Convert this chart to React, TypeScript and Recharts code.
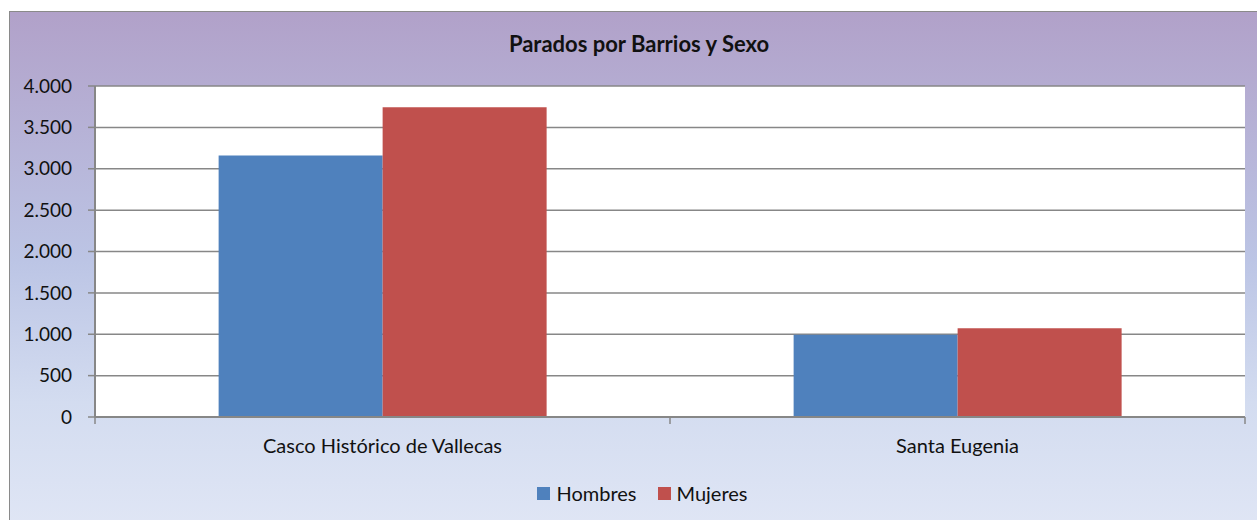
import { BarChart, Bar, XAxis, YAxis, CartesianGrid } from "recharts";

const BARRIOS = ["Casco Histórico de Vallecas", "Santa Eugenia"];
const HOMBRES = [3160, 995];
const MUJERES = [3742, 1072];
const Y_TICKS = [0, 500, 1000, 1500, 2000, 2500, 3000, 3500, 4000];

const SERIES = [
  { key: "hombres", label: "Hombres", color: "#4F81BD" },
  { key: "mujeres", label: "Mujeres", color: "#C0504D" },
];

const data = BARRIOS.map((b, i) => ({ barrio: b, hombres: HOMBRES[i], mujeres: MUJERES[i] }));

const FONT = "Lato, 'Noto Sans', sans-serif";
const W = 1257;
const H = 520;
const X_H = 30;
const M = { top: 86, right: 12, bottom: 103 - X_H, left: 15 };
const Y_W = 80;
const PLOT_W = W - M.left - M.right - Y_W;
const BAND = PLOT_W / BARRIOS.length;
const GREY = "#878787";

const fmt = (v: number) => String(v).replace(/\B(?=(\d{3})+(?!\d))/g, ".");

// Excel style: tick marks sit on category boundaries, not centres
const XTick = ({ x, y, payload, index }: any) => {
  const half = BAND / 2;
  return (
    <g>
      {index === 0 && <line x1={x - half} x2={x - half} y1={y} y2={y + 7} stroke={GREY} strokeWidth={1.5} />}
      <line x1={x + half} x2={x + half} y1={y} y2={y + 7} stroke={GREY} strokeWidth={1.5} />
      <text x={x} y={y + 36} textAnchor="middle" fill="#111" fontSize={20} fontFamily={FONT}>
        {payload.value}
      </text>
    </g>
  );
};

export default function App() {
  return (
    <div style={{ position: "relative", width: W, height: H, overflow: "hidden" }}>
      <style>{`body { margin: 0; overflow: hidden; }`}</style>
      <div style={{
        position: "absolute", left: 9, top: 11, width: 1300, height: 520,
        borderTop: "1px solid #8a8a8a", borderLeft: "1px solid #8a8a8a",
        background: "linear-gradient(to bottom, #B1A1C9 0%, #BCC5E5 48%, #D3DCF0 75%, #E0E6F5 100%)",
      }} />
      <div style={{
        position: "absolute", top: 33, left: 9, width: 1260, textAlign: "center",
        fontFamily: FONT, fontWeight: 700, fontSize: 22, lineHeight: 1, color: "#111",
      }}>
        Parados por Barrios y Sexo
      </div>
      <div style={{ position: "absolute", left: 0, top: 0 }}>
        <BarChart width={W} height={H} data={data} margin={M} barCategoryGap="21.5%" barGap={0}>
          <CartesianGrid vertical={false} stroke={GREY} strokeWidth={1.5} fill="#ffffff" />
          <XAxis
            dataKey="barrio"
            height={X_H}
            tick={<XTick />}
            tickLine={false}
            tickSize={0}
            tickMargin={0}
            axisLine={{ stroke: GREY, strokeWidth: 2 }}
            interval={0}
          />
          <YAxis
            width={Y_W}
            domain={[0, 4000]}
            ticks={Y_TICKS}
            tickFormatter={fmt}
            tick={{ fill: "#111", fontSize: 19, fontFamily: FONT }}
            tickSize={7}
            tickMargin={16}
            tickLine={{ stroke: GREY, strokeWidth: 1.5 }}
            axisLine={{ stroke: GREY, strokeWidth: 2 }}
            interval={0}
          />
          {SERIES.map(s => (
            <Bar key={s.key} dataKey={s.key} name={s.label} fill={s.color} isAnimationActive={false} />
          ))}
        </BarChart>
      </div>
      {/* legend */}
      <div style={{
        position: "absolute", top: 483, left: 0, width: 1285,
        display: "flex", justifyContent: "center", gap: 21, fontFamily: FONT, fontSize: 20, color: "#111",
      }}>
        {SERIES.map(s => (
          <div key={s.key} style={{ display: "flex", alignItems: "center", gap: 6 }}>
            <div style={{ width: 13, height: 13, background: s.color }} />
            <span style={{ lineHeight: "20px" }}>{s.label}</span>
          </div>
        ))}
      </div>
    </div>
  );
}
